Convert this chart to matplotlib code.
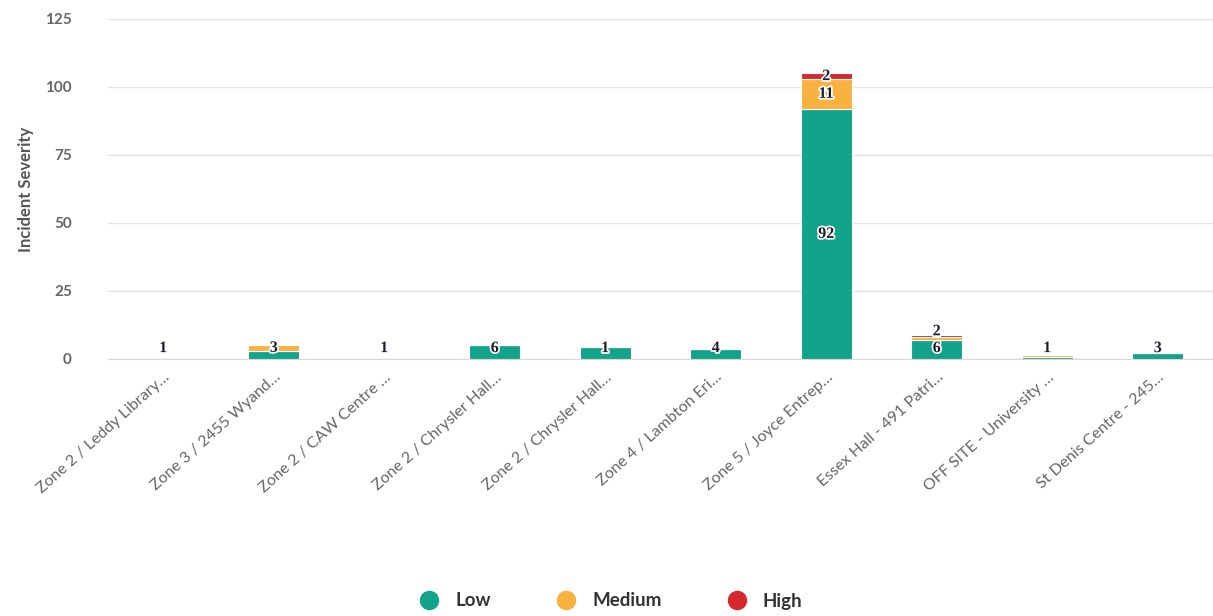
import numpy as np
import matplotlib.pyplot as plt
import matplotlib.patheffects as pe
from matplotlib.lines import Line2D

# ---------------------------------------------------------
# Data
# ---------------------------------------------------------
categories = [
    'Zone 2 / Leddy Library…', 'Zone 3 / 2455 Wyand…', 'Zone 2 / CAW Centre …',
    'Zone 2 / Chrysler Hall…', 'Zone 2 / Chrysler Hall…', 'Zone 4 / Lambton Eri…',
    'Zone 5 / Joyce Entrep…', 'Essex Hall - 491 Patri…', 'OFF SITE - University …',
    'St Denis Centre - 245…',
]
low = [0, 3.0, 0, 5.2, 4.5, 3.5, 92, 7.0, 0.7, 2.2]
medium = [0, 2.2, 0, 0, 0, 0, 11, 1.0, 0.9, 0]
high = [0, 0, 0, 0, 0, 0, 2, 1.0, 0, 0]

# data labels shown on each segment ('' = none)
low_labels = ['1', '', '1', '6', '1', '4', '92', '6', '', '3']
medium_labels = ['', '3', '', '', '', '', '11', '', '1', '']
high_labels = ['', '', '', '', '', '', '2', '2', '', '']

series_names = ['Low', 'Medium', 'High']
colors = ['#12a38b', '#f9b13f', '#d8282f']

# ---------------------------------------------------------
# Plot
# ---------------------------------------------------------
plt.rcParams['font.family'] = ['Lato', 'DejaVu Sans']

fig = plt.figure(figsize=(12.13, 6.16), dpi=100)
ax = fig.add_axes([108 / 1213, 1 - 359 / 616, 1 - 108 / 1213, 340 / 616])

x = np.arange(len(categories))
bar_w = 0.46
bottom = np.zeros(len(categories))
outline = [pe.withStroke(linewidth=2.5, foreground='white')]

for vals, labels, color in zip([low, medium, high],
                               [low_labels, medium_labels, high_labels], colors):
    vals = np.array(vals, dtype=float)
    ax.bar(x, vals, bar_w, bottom=bottom, color=color, edgecolor='white',
           linewidth=0.8, zorder=3)
    for i, lab in enumerate(labels):
        if lab:
            y = max(bottom[i] + vals[i] / 2, 4)
            if vals[i] > 0 and color == colors[2] and bottom[i] < 20:
                y = bottom[i] + vals[i] + 1.2
            ax.text(x[i], y, lab, ha='center', va='center', fontsize=11.5,
                    fontweight='bold', color='#1c1c2a', family='Liberation Serif',
                    path_effects=outline, zorder=5)
    bottom += vals

ax.set_xlim(-0.5, len(categories) - 0.5)
ax.set_ylim(0, 125)
ax.set_yticks([0, 25, 50, 75, 100, 125])
ax.grid(axis='y', color='#e3e3e3', linewidth=1, zorder=0)
for s in ['top', 'right', 'left']:
    ax.spines[s].set_visible(False)
ax.spines['bottom'].set_color('#d8d8d8')
ax.tick_params(axis='y', length=0, pad=26, labelsize=11, labelcolor='#666666')
ax.tick_params(axis='x', length=0, pad=8, labelsize=11.5, labelcolor='#666666')
for t in ax.get_yticklabels():
    t.set_fontweight('bold')

ax.set_xticks(x)
ax.set_xticklabels(categories, rotation=42, ha='right', rotation_mode='anchor')
ax.set_ylabel('Incident Severity', fontsize=12, fontweight='bold',
              color='#555555', labelpad=8)

handles = [Line2D([], [], marker='o', linestyle='', markersize=13,
                  markerfacecolor=c, markeredgecolor=c) for c in colors]
fig.legend(handles, series_names, loc='center', bbox_to_anchor=(0.5, 1 - 601 / 616),
           ncol=3, frameon=False, handletextpad=0.4, columnspacing=3.0,
           prop={'weight': 'bold', 'size': 13.5}, labelcolor='#333333')

plt.savefig('out.png', dpi=100)
